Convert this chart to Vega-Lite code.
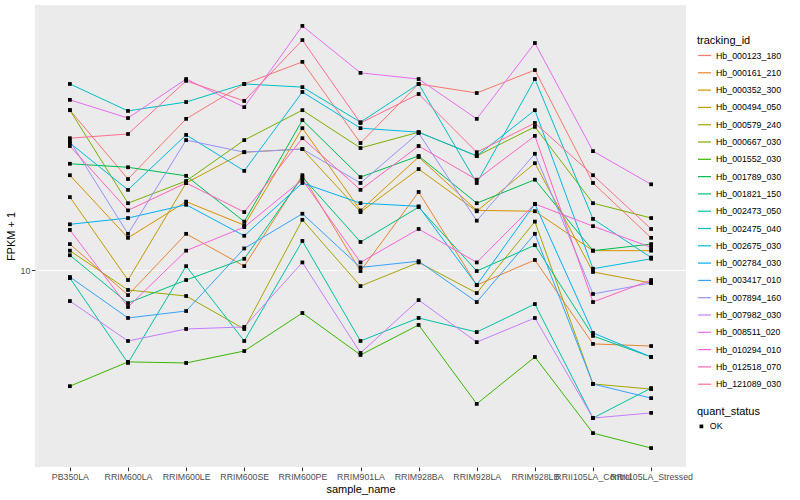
{
"$schema": "https://vega.github.io/schema/vega-lite/v6.json",
"width": 651, "height": 462,
"autosize": {"type": "none"},
"padding": {"left": 35, "top": 5, "right": 114, "bottom": 33},
"background": "white",
"config": {
  "view": {"fill": "#EBEBEB", "stroke": null},
  "font": "Liberation Sans",
  "axis": {"gridColor": "white", "gridWidth": 1.1, "domain": false, "tickColor": "#333333", "tickSize": 3.7, "labelColor": "#4D4D4D", "labelFontSize": 8.8, "labelPadding": 1.5, "titleFontSize": 11, "titleFontWeight": "normal", "titleColor": "black"},
  "legend": {"titleFontSize": 11, "titleFontWeight": "normal", "titleColor": "black", "labelFontSize": 8.8, "labelColor": "black", "padding": 0, "titlePadding": 2}
},
"data": {"values": [
{"tracking_id":"Hb_000123_180","sample_name":"PB350LA","fpkm":34.1,"quant_status":"OK"},
{"tracking_id":"Hb_000123_180","sample_name":"RRIM600LA","fpkm":20.1,"quant_status":"OK"},
{"tracking_id":"Hb_000123_180","sample_name":"RRIM600LE","fpkm":31.9,"quant_status":"OK"},
{"tracking_id":"Hb_000123_180","sample_name":"RRIM600SE","fpkm":41.7,"quant_status":"OK"},
{"tracking_id":"Hb_000123_180","sample_name":"RRIM600PE","fpkm":49.4,"quant_status":"OK"},
{"tracking_id":"Hb_000123_180","sample_name":"RRIM901LA","fpkm":26.5,"quant_status":"OK"},
{"tracking_id":"Hb_000123_180","sample_name":"RRIM928BA","fpkm":41.7,"quant_status":"OK"},
{"tracking_id":"Hb_000123_180","sample_name":"RRIM928LA","fpkm":38.9,"quant_status":"OK"},
{"tracking_id":"Hb_000123_180","sample_name":"RRIM928LB","fpkm":46.4,"quant_status":"OK"},
{"tracking_id":"Hb_000123_180","sample_name":"RRII105LA_Control","fpkm":19.5,"quant_status":"OK"},
{"tracking_id":"Hb_000123_180","sample_name":"RRII105LA_Stressed","fpkm":12.8,"quant_status":"OK"},
{"tracking_id":"Hb_000161_210","sample_name":"PB350LA","fpkm":12.2,"quant_status":"OK"},
{"tracking_id":"Hb_000161_210","sample_name":"RRIM600LA","fpkm":8.25,"quant_status":"OK"},
{"tracking_id":"Hb_000161_210","sample_name":"RRIM600LE","fpkm":13.2,"quant_status":"OK"},
{"tracking_id":"Hb_000161_210","sample_name":"RRIM600SE","fpkm":10.3,"quant_status":"OK"},
{"tracking_id":"Hb_000161_210","sample_name":"RRIM600PE","fpkm":20.7,"quant_status":"OK"},
{"tracking_id":"Hb_000161_210","sample_name":"RRIM901LA","fpkm":9.92,"quant_status":"OK"},
{"tracking_id":"Hb_000161_210","sample_name":"RRIM928BA","fpkm":18.2,"quant_status":"OK"},
{"tracking_id":"Hb_000161_210","sample_name":"RRIM928LA","fpkm":8.91,"quant_status":"OK"},
{"tracking_id":"Hb_000161_210","sample_name":"RRIM928LB","fpkm":10.8,"quant_status":"OK"},
{"tracking_id":"Hb_000161_210","sample_name":"RRII105LA_Control","fpkm":5.67,"quant_status":"OK"},
{"tracking_id":"Hb_000161_210","sample_name":"RRII105LA_Stressed","fpkm":5.58,"quant_status":"OK"},
{"tracking_id":"Hb_000352_300","sample_name":"PB350LA","fpkm":20.7,"quant_status":"OK"},
{"tracking_id":"Hb_000352_300","sample_name":"RRIM600LA","fpkm":12.8,"quant_status":"OK"},
{"tracking_id":"Hb_000352_300","sample_name":"RRIM600LE","fpkm":16.9,"quant_status":"OK"},
{"tracking_id":"Hb_000352_300","sample_name":"RRIM600SE","fpkm":14.1,"quant_status":"OK"},
{"tracking_id":"Hb_000352_300","sample_name":"RRIM600PE","fpkm":29.7,"quant_status":"OK"},
{"tracking_id":"Hb_000352_300","sample_name":"RRIM901LA","fpkm":15.8,"quant_status":"OK"},
{"tracking_id":"Hb_000352_300","sample_name":"RRIM928BA","fpkm":23.8,"quant_status":"OK"},
{"tracking_id":"Hb_000352_300","sample_name":"RRIM928LA","fpkm":15.8,"quant_status":"OK"},
{"tracking_id":"Hb_000352_300","sample_name":"RRIM928LB","fpkm":15.7,"quant_status":"OK"},
{"tracking_id":"Hb_000352_300","sample_name":"RRII105LA_Control","fpkm":11.6,"quant_status":"OK"},
{"tracking_id":"Hb_000352_300","sample_name":"RRII105LA_Stressed","fpkm":11.6,"quant_status":"OK"},
{"tracking_id":"Hb_000494_050","sample_name":"PB350LA","fpkm":17.5,"quant_status":"OK"},
{"tracking_id":"Hb_000494_050","sample_name":"RRIM600LA","fpkm":9.26,"quant_status":"OK"},
{"tracking_id":"Hb_000494_050","sample_name":"RRIM600LE","fpkm":19.5,"quant_status":"OK"},
{"tracking_id":"Hb_000494_050","sample_name":"RRIM600SE","fpkm":24.7,"quant_status":"OK"},
{"tracking_id":"Hb_000494_050","sample_name":"RRIM600PE","fpkm":25.3,"quant_status":"OK"},
{"tracking_id":"Hb_000494_050","sample_name":"RRIM901LA","fpkm":15.6,"quant_status":"OK"},
{"tracking_id":"Hb_000494_050","sample_name":"RRIM928BA","fpkm":21.7,"quant_status":"OK"},
{"tracking_id":"Hb_000494_050","sample_name":"RRIM928LA","fpkm":15.7,"quant_status":"OK"},
{"tracking_id":"Hb_000494_050","sample_name":"RRIM928LB","fpkm":22.7,"quant_status":"OK"},
{"tracking_id":"Hb_000494_050","sample_name":"RRII105LA_Control","fpkm":9.85,"quant_status":"OK"},
{"tracking_id":"Hb_000494_050","sample_name":"RRII105LA_Stressed","fpkm":9.05,"quant_status":"OK"},
{"tracking_id":"Hb_000579_240","sample_name":"PB350LA","fpkm":11.6,"quant_status":"OK"},
{"tracking_id":"Hb_000579_240","sample_name":"RRIM600LA","fpkm":8.58,"quant_status":"OK"},
{"tracking_id":"Hb_000579_240","sample_name":"RRIM600LE","fpkm":8.19,"quant_status":"OK"},
{"tracking_id":"Hb_000579_240","sample_name":"RRIM600SE","fpkm":6.36,"quant_status":"OK"},
{"tracking_id":"Hb_000579_240","sample_name":"RRIM600PE","fpkm":14.7,"quant_status":"OK"},
{"tracking_id":"Hb_000579_240","sample_name":"RRIM901LA","fpkm":8.84,"quant_status":"OK"},
{"tracking_id":"Hb_000579_240","sample_name":"RRIM928BA","fpkm":10.6,"quant_status":"OK"},
{"tracking_id":"Hb_000579_240","sample_name":"RRIM928LA","fpkm":8.38,"quant_status":"OK"},
{"tracking_id":"Hb_000579_240","sample_name":"RRIM928LB","fpkm":14.5,"quant_status":"OK"},
{"tracking_id":"Hb_000579_240","sample_name":"RRII105LA_Control","fpkm":4.17,"quant_status":"OK"},
{"tracking_id":"Hb_000579_240","sample_name":"RRII105LA_Stressed","fpkm":4.01,"quant_status":"OK"},
{"tracking_id":"Hb_000667_030","sample_name":"PB350LA","fpkm":34.1,"quant_status":"OK"},
{"tracking_id":"Hb_000667_030","sample_name":"RRIM600LA","fpkm":16.7,"quant_status":"OK"},
{"tracking_id":"Hb_000667_030","sample_name":"RRIM600LE","fpkm":19.8,"quant_status":"OK"},
{"tracking_id":"Hb_000667_030","sample_name":"RRIM600SE","fpkm":27.1,"quant_status":"OK"},
{"tracking_id":"Hb_000667_030","sample_name":"RRIM600PE","fpkm":34.1,"quant_status":"OK"},
{"tracking_id":"Hb_000667_030","sample_name":"RRIM901LA","fpkm":25.5,"quant_status":"OK"},
{"tracking_id":"Hb_000667_030","sample_name":"RRIM928BA","fpkm":28.8,"quant_status":"OK"},
{"tracking_id":"Hb_000667_030","sample_name":"RRIM928LA","fpkm":24.0,"quant_status":"OK"},
{"tracking_id":"Hb_000667_030","sample_name":"RRIM928LB","fpkm":30.0,"quant_status":"OK"},
{"tracking_id":"Hb_000667_030","sample_name":"RRII105LA_Control","fpkm":16.7,"quant_status":"OK"},
{"tracking_id":"Hb_000667_030","sample_name":"RRII105LA_Stressed","fpkm":14.9,"quant_status":"OK"},
{"tracking_id":"Hb_001552_030","sample_name":"PB350LA","fpkm":4.10,"quant_status":"OK"},
{"tracking_id":"Hb_001552_030","sample_name":"RRIM600LA","fpkm":4.94,"quant_status":"OK"},
{"tracking_id":"Hb_001552_030","sample_name":"RRIM600LE","fpkm":4.90,"quant_status":"OK"},
{"tracking_id":"Hb_001552_030","sample_name":"RRIM600SE","fpkm":5.37,"quant_status":"OK"},
{"tracking_id":"Hb_001552_030","sample_name":"RRIM600PE","fpkm":7.19,"quant_status":"OK"},
{"tracking_id":"Hb_001552_030","sample_name":"RRIM901LA","fpkm":5.21,"quant_status":"OK"},
{"tracking_id":"Hb_001552_030","sample_name":"RRIM928BA","fpkm":6.56,"quant_status":"OK"},
{"tracking_id":"Hb_001552_030","sample_name":"RRIM928LA","fpkm":3.58,"quant_status":"OK"},
{"tracking_id":"Hb_001552_030","sample_name":"RRIM928LB","fpkm":5.13,"quant_status":"OK"},
{"tracking_id":"Hb_001552_030","sample_name":"RRII105LA_Control","fpkm":2.86,"quant_status":"OK"},
{"tracking_id":"Hb_001552_030","sample_name":"RRII105LA_Stressed","fpkm":2.55,"quant_status":"OK"},
{"tracking_id":"Hb_001789_030","sample_name":"PB350LA","fpkm":22.6,"quant_status":"OK"},
{"tracking_id":"Hb_001789_030","sample_name":"RRIM600LA","fpkm":22.0,"quant_status":"OK"},
{"tracking_id":"Hb_001789_030","sample_name":"RRIM600LE","fpkm":20.6,"quant_status":"OK"},
{"tracking_id":"Hb_001789_030","sample_name":"RRIM600SE","fpkm":14.5,"quant_status":"OK"},
{"tracking_id":"Hb_001789_030","sample_name":"RRIM600PE","fpkm":31.6,"quant_status":"OK"},
{"tracking_id":"Hb_001789_030","sample_name":"RRIM901LA","fpkm":20.4,"quant_status":"OK"},
{"tracking_id":"Hb_001789_030","sample_name":"RRIM928BA","fpkm":24.0,"quant_status":"OK"},
{"tracking_id":"Hb_001789_030","sample_name":"RRIM928LA","fpkm":16.7,"quant_status":"OK"},
{"tracking_id":"Hb_001789_030","sample_name":"RRIM928LB","fpkm":20.0,"quant_status":"OK"},
{"tracking_id":"Hb_001789_030","sample_name":"RRII105LA_Control","fpkm":11.6,"quant_status":"OK"},
{"tracking_id":"Hb_001789_030","sample_name":"RRII105LA_Stressed","fpkm":12.2,"quant_status":"OK"},
{"tracking_id":"Hb_001821_150","sample_name":"PB350LA","fpkm":11.2,"quant_status":"OK"},
{"tracking_id":"Hb_001821_150","sample_name":"RRIM600LA","fpkm":7.76,"quant_status":"OK"},
{"tracking_id":"Hb_001821_150","sample_name":"RRIM600LE","fpkm":9.26,"quant_status":"OK"},
{"tracking_id":"Hb_001821_150","sample_name":"RRIM600SE","fpkm":10.9,"quant_status":"OK"},
{"tracking_id":"Hb_001821_150","sample_name":"RRIM600PE","fpkm":20.4,"quant_status":"OK"},
{"tracking_id":"Hb_001821_150","sample_name":"RRIM901LA","fpkm":12.4,"quant_status":"OK"},
{"tracking_id":"Hb_001821_150","sample_name":"RRIM928BA","fpkm":16.2,"quant_status":"OK"},
{"tracking_id":"Hb_001821_150","sample_name":"RRIM928LA","fpkm":9.92,"quant_status":"OK"},
{"tracking_id":"Hb_001821_150","sample_name":"RRIM928LB","fpkm":12.1,"quant_status":"OK"},
{"tracking_id":"Hb_001821_150","sample_name":"RRII105LA_Control","fpkm":6.03,"quant_status":"OK"},
{"tracking_id":"Hb_001821_150","sample_name":"RRII105LA_Stressed","fpkm":5.13,"quant_status":"OK"},
{"tracking_id":"Hb_002473_050","sample_name":"PB350LA","fpkm":9.40,"quant_status":"OK"},
{"tracking_id":"Hb_002473_050","sample_name":"RRIM600LA","fpkm":4.90,"quant_status":"OK"},
{"tracking_id":"Hb_002473_050","sample_name":"RRIM600LE","fpkm":10.3,"quant_status":"OK"},
{"tracking_id":"Hb_002473_050","sample_name":"RRIM600SE","fpkm":5.80,"quant_status":"OK"},
{"tracking_id":"Hb_002473_050","sample_name":"RRIM600PE","fpkm":12.5,"quant_status":"OK"},
{"tracking_id":"Hb_002473_050","sample_name":"RRIM901LA","fpkm":5.80,"quant_status":"OK"},
{"tracking_id":"Hb_002473_050","sample_name":"RRIM928BA","fpkm":6.92,"quant_status":"OK"},
{"tracking_id":"Hb_002473_050","sample_name":"RRIM928LA","fpkm":6.21,"quant_status":"OK"},
{"tracking_id":"Hb_002473_050","sample_name":"RRIM928LB","fpkm":7.70,"quant_status":"OK"},
{"tracking_id":"Hb_002473_050","sample_name":"RRII105LA_Control","fpkm":3.21,"quant_status":"OK"},
{"tracking_id":"Hb_002473_050","sample_name":"RRII105LA_Stressed","fpkm":4.04,"quant_status":"OK"},
{"tracking_id":"Hb_002475_040","sample_name":"PB350LA","fpkm":41.7,"quant_status":"OK"},
{"tracking_id":"Hb_002475_040","sample_name":"RRIM600LA","fpkm":33.9,"quant_status":"OK"},
{"tracking_id":"Hb_002475_040","sample_name":"RRIM600LE","fpkm":36.3,"quant_status":"OK"},
{"tracking_id":"Hb_002475_040","sample_name":"RRIM600SE","fpkm":41.7,"quant_status":"OK"},
{"tracking_id":"Hb_002475_040","sample_name":"RRIM600PE","fpkm":40.7,"quant_status":"OK"},
{"tracking_id":"Hb_002475_040","sample_name":"RRIM901LA","fpkm":31.1,"quant_status":"OK"},
{"tracking_id":"Hb_002475_040","sample_name":"RRIM928BA","fpkm":41.7,"quant_status":"OK"},
{"tracking_id":"Hb_002475_040","sample_name":"RRIM928LA","fpkm":19.5,"quant_status":"OK"},
{"tracking_id":"Hb_002475_040","sample_name":"RRIM928LB","fpkm":43.3,"quant_status":"OK"},
{"tracking_id":"Hb_002475_040","sample_name":"RRII105LA_Control","fpkm":14.8,"quant_status":"OK"},
{"tracking_id":"Hb_002475_040","sample_name":"RRII105LA_Stressed","fpkm":11.0,"quant_status":"OK"},
{"tracking_id":"Hb_002675_030","sample_name":"PB350LA","fpkm":26.5,"quant_status":"OK"},
{"tracking_id":"Hb_002675_030","sample_name":"RRIM600LA","fpkm":18.5,"quant_status":"OK"},
{"tracking_id":"Hb_002675_030","sample_name":"RRIM600LE","fpkm":28.2,"quant_status":"OK"},
{"tracking_id":"Hb_002675_030","sample_name":"RRIM600SE","fpkm":21.4,"quant_status":"OK"},
{"tracking_id":"Hb_002675_030","sample_name":"RRIM600PE","fpkm":39.2,"quant_status":"OK"},
{"tracking_id":"Hb_002675_030","sample_name":"RRIM901LA","fpkm":29.7,"quant_status":"OK"},
{"tracking_id":"Hb_002675_030","sample_name":"RRIM928BA","fpkm":28.8,"quant_status":"OK"},
{"tracking_id":"Hb_002675_030","sample_name":"RRIM928LA","fpkm":24.0,"quant_status":"OK"},
{"tracking_id":"Hb_002675_030","sample_name":"RRIM928LB","fpkm":34.1,"quant_status":"OK"},
{"tracking_id":"Hb_002675_030","sample_name":"RRII105LA_Control","fpkm":10.1,"quant_status":"OK"},
{"tracking_id":"Hb_002675_030","sample_name":"RRII105LA_Stressed","fpkm":10.9,"quant_status":"OK"},
{"tracking_id":"Hb_002784_030","sample_name":"PB350LA","fpkm":14.2,"quant_status":"OK"},
{"tracking_id":"Hb_002784_030","sample_name":"RRIM600LA","fpkm":14.9,"quant_status":"OK"},
{"tracking_id":"Hb_002784_030","sample_name":"RRIM600LE","fpkm":16.5,"quant_status":"OK"},
{"tracking_id":"Hb_002784_030","sample_name":"RRIM600SE","fpkm":13.0,"quant_status":"OK"},
{"tracking_id":"Hb_002784_030","sample_name":"RRIM600PE","fpkm":19.5,"quant_status":"OK"},
{"tracking_id":"Hb_002784_030","sample_name":"RRIM901LA","fpkm":16.7,"quant_status":"OK"},
{"tracking_id":"Hb_002784_030","sample_name":"RRIM928BA","fpkm":16.3,"quant_status":"OK"},
{"tracking_id":"Hb_002784_030","sample_name":"RRIM928LA","fpkm":8.91,"quant_status":"OK"},
{"tracking_id":"Hb_002784_030","sample_name":"RRIM928LB","fpkm":16.6,"quant_status":"OK"},
{"tracking_id":"Hb_002784_030","sample_name":"RRII105LA_Control","fpkm":6.17,"quant_status":"OK"},
{"tracking_id":"Hb_002784_030","sample_name":"RRII105LA_Stressed","fpkm":5.13,"quant_status":"OK"},
{"tracking_id":"Hb_003417_010","sample_name":"PB350LA","fpkm":9.48,"quant_status":"OK"},
{"tracking_id":"Hb_003417_010","sample_name":"RRIM600LA","fpkm":6.92,"quant_status":"OK"},
{"tracking_id":"Hb_003417_010","sample_name":"RRIM600LE","fpkm":7.30,"quant_status":"OK"},
{"tracking_id":"Hb_003417_010","sample_name":"RRIM600SE","fpkm":11.8,"quant_status":"OK"},
{"tracking_id":"Hb_003417_010","sample_name":"RRIM600PE","fpkm":15.4,"quant_status":"OK"},
{"tracking_id":"Hb_003417_010","sample_name":"RRIM901LA","fpkm":10.2,"quant_status":"OK"},
{"tracking_id":"Hb_003417_010","sample_name":"RRIM928BA","fpkm":10.7,"quant_status":"OK"},
{"tracking_id":"Hb_003417_010","sample_name":"RRIM928LA","fpkm":7.82,"quant_status":"OK"},
{"tracking_id":"Hb_003417_010","sample_name":"RRIM928LB","fpkm":13.2,"quant_status":"OK"},
{"tracking_id":"Hb_003417_010","sample_name":"RRII105LA_Control","fpkm":4.17,"quant_status":"OK"},
{"tracking_id":"Hb_003417_010","sample_name":"RRII105LA_Stressed","fpkm":3.74,"quant_status":"OK"},
{"tracking_id":"Hb_007894_160","sample_name":"PB350LA","fpkm":26.9,"quant_status":"OK"},
{"tracking_id":"Hb_007894_160","sample_name":"RRIM600LA","fpkm":13.2,"quant_status":"OK"},
{"tracking_id":"Hb_007894_160","sample_name":"RRIM600LE","fpkm":27.1,"quant_status":"OK"},
{"tracking_id":"Hb_007894_160","sample_name":"RRIM600SE","fpkm":24.7,"quant_status":"OK"},
{"tracking_id":"Hb_007894_160","sample_name":"RRIM600PE","fpkm":25.3,"quant_status":"OK"},
{"tracking_id":"Hb_007894_160","sample_name":"RRIM901LA","fpkm":19.5,"quant_status":"OK"},
{"tracking_id":"Hb_007894_160","sample_name":"RRIM928BA","fpkm":28.6,"quant_status":"OK"},
{"tracking_id":"Hb_007894_160","sample_name":"RRIM928LA","fpkm":14.6,"quant_status":"OK"},
{"tracking_id":"Hb_007894_160","sample_name":"RRIM928LB","fpkm":24.4,"quant_status":"OK"},
{"tracking_id":"Hb_007894_160","sample_name":"RRII105LA_Control","fpkm":8.32,"quant_status":"OK"},
{"tracking_id":"Hb_007894_160","sample_name":"RRII105LA_Stressed","fpkm":9.05,"quant_status":"OK"},
{"tracking_id":"Hb_007982_030","sample_name":"PB350LA","fpkm":7.88,"quant_status":"OK"},
{"tracking_id":"Hb_007982_030","sample_name":"RRIM600LA","fpkm":5.80,"quant_status":"OK"},
{"tracking_id":"Hb_007982_030","sample_name":"RRIM600LE","fpkm":6.36,"quant_status":"OK"},
{"tracking_id":"Hb_007982_030","sample_name":"RRIM600SE","fpkm":6.46,"quant_status":"OK"},
{"tracking_id":"Hb_007982_030","sample_name":"RRIM600PE","fpkm":10.6,"quant_status":"OK"},
{"tracking_id":"Hb_007982_030","sample_name":"RRIM901LA","fpkm":5.29,"quant_status":"OK"},
{"tracking_id":"Hb_007982_030","sample_name":"RRIM928BA","fpkm":7.94,"quant_status":"OK"},
{"tracking_id":"Hb_007982_030","sample_name":"RRIM928LA","fpkm":5.75,"quant_status":"OK"},
{"tracking_id":"Hb_007982_030","sample_name":"RRIM928LB","fpkm":6.92,"quant_status":"OK"},
{"tracking_id":"Hb_007982_030","sample_name":"RRII105LA_Control","fpkm":3.21,"quant_status":"OK"},
{"tracking_id":"Hb_007982_030","sample_name":"RRII105LA_Stressed","fpkm":3.34,"quant_status":"OK"},
{"tracking_id":"Hb_008511_020","sample_name":"PB350LA","fpkm":36.9,"quant_status":"OK"},
{"tracking_id":"Hb_008511_020","sample_name":"RRIM600LA","fpkm":32.1,"quant_status":"OK"},
{"tracking_id":"Hb_008511_020","sample_name":"RRIM600LE","fpkm":43.3,"quant_status":"OK"},
{"tracking_id":"Hb_008511_020","sample_name":"RRIM600SE","fpkm":34.9,"quant_status":"OK"},
{"tracking_id":"Hb_008511_020","sample_name":"RRIM600PE","fpkm":65.1,"quant_status":"OK"},
{"tracking_id":"Hb_008511_020","sample_name":"RRIM901LA","fpkm":45.4,"quant_status":"OK"},
{"tracking_id":"Hb_008511_020","sample_name":"RRIM928BA","fpkm":43.3,"quant_status":"OK"},
{"tracking_id":"Hb_008511_020","sample_name":"RRIM928LA","fpkm":31.9,"quant_status":"OK"},
{"tracking_id":"Hb_008511_020","sample_name":"RRIM928LB","fpkm":57.1,"quant_status":"OK"},
{"tracking_id":"Hb_008511_020","sample_name":"RRII105LA_Control","fpkm":24.9,"quant_status":"OK"},
{"tracking_id":"Hb_008511_020","sample_name":"RRII105LA_Stressed","fpkm":19.3,"quant_status":"OK"},
{"tracking_id":"Hb_010294_010","sample_name":"PB350LA","fpkm":13.6,"quant_status":"OK"},
{"tracking_id":"Hb_010294_010","sample_name":"RRIM600LA","fpkm":7.53,"quant_status":"OK"},
{"tracking_id":"Hb_010294_010","sample_name":"RRIM600LE","fpkm":11.6,"quant_status":"OK"},
{"tracking_id":"Hb_010294_010","sample_name":"RRIM600SE","fpkm":13.9,"quant_status":"OK"},
{"tracking_id":"Hb_010294_010","sample_name":"RRIM600PE","fpkm":20.0,"quant_status":"OK"},
{"tracking_id":"Hb_010294_010","sample_name":"RRIM901LA","fpkm":10.6,"quant_status":"OK"},
{"tracking_id":"Hb_010294_010","sample_name":"RRIM928BA","fpkm":13.7,"quant_status":"OK"},
{"tracking_id":"Hb_010294_010","sample_name":"RRIM928LA","fpkm":10.6,"quant_status":"OK"},
{"tracking_id":"Hb_010294_010","sample_name":"RRIM928LB","fpkm":16.6,"quant_status":"OK"},
{"tracking_id":"Hb_010294_010","sample_name":"RRII105LA_Control","fpkm":14.0,"quant_status":"OK"},
{"tracking_id":"Hb_010294_010","sample_name":"RRII105LA_Stressed","fpkm":11.9,"quant_status":"OK"},
{"tracking_id":"Hb_012518_070","sample_name":"PB350LA","fpkm":25.9,"quant_status":"OK"},
{"tracking_id":"Hb_012518_070","sample_name":"RRIM600LA","fpkm":15.8,"quant_status":"OK"},
{"tracking_id":"Hb_012518_070","sample_name":"RRIM600LE","fpkm":19.5,"quant_status":"OK"},
{"tracking_id":"Hb_012518_070","sample_name":"RRIM600SE","fpkm":15.6,"quant_status":"OK"},
{"tracking_id":"Hb_012518_070","sample_name":"RRIM600PE","fpkm":27.5,"quant_status":"OK"},
{"tracking_id":"Hb_012518_070","sample_name":"RRIM901LA","fpkm":18.5,"quant_status":"OK"},
{"tracking_id":"Hb_012518_070","sample_name":"RRIM928BA","fpkm":25.9,"quant_status":"OK"},
{"tracking_id":"Hb_012518_070","sample_name":"RRIM928LA","fpkm":20.0,"quant_status":"OK"},
{"tracking_id":"Hb_012518_070","sample_name":"RRIM928LB","fpkm":28.0,"quant_status":"OK"},
{"tracking_id":"Hb_012518_070","sample_name":"RRII105LA_Control","fpkm":7.82,"quant_status":"OK"},
{"tracking_id":"Hb_012518_070","sample_name":"RRII105LA_Stressed","fpkm":9.26,"quant_status":"OK"},
{"tracking_id":"Hb_121089_030","sample_name":"PB350LA","fpkm":27.5,"quant_status":"OK"},
{"tracking_id":"Hb_121089_030","sample_name":"RRIM600LA","fpkm":28.4,"quant_status":"OK"},
{"tracking_id":"Hb_121089_030","sample_name":"RRIM600LE","fpkm":42.7,"quant_status":"OK"},
{"tracking_id":"Hb_121089_030","sample_name":"RRIM600SE","fpkm":36.6,"quant_status":"OK"},
{"tracking_id":"Hb_121089_030","sample_name":"RRIM600PE","fpkm":58.4,"quant_status":"OK"},
{"tracking_id":"Hb_121089_030","sample_name":"RRIM901LA","fpkm":30.9,"quant_status":"OK"},
{"tracking_id":"Hb_121089_030","sample_name":"RRIM928BA","fpkm":38.6,"quant_status":"OK"},
{"tracking_id":"Hb_121089_030","sample_name":"RRIM928LA","fpkm":24.7,"quant_status":"OK"},
{"tracking_id":"Hb_121089_030","sample_name":"RRIM928LB","fpkm":30.9,"quant_status":"OK"},
{"tracking_id":"Hb_121089_030","sample_name":"RRII105LA_Control","fpkm":20.7,"quant_status":"OK"},
{"tracking_id":"Hb_121089_030","sample_name":"RRII105LA_Stressed","fpkm":13.7,"quant_status":"OK"}
]},
"encoding": {
  "x": {"field": "sample_name", "type": "nominal",
        "sort": ["PB350LA","RRIM600LA","RRIM600LE","RRIM600SE","RRIM600PE","RRIM901LA","RRIM928BA","RRIM928LA","RRIM928LB","RRII105LA_Control","RRII105LA_Stressed"],
        "scale": {"type": "point", "padding": 0.6},
        "axis": {"title": "sample_name", "labelAngle": 0, "labelOverlap": false, "labelLimit": 0, "titlePadding": 2}},
  "y": {"field": "fpkm", "type": "quantitative",
        "scale": {"type": "log", "domain": [2.205, 76.43], "nice": false},
        "axis": {"title": "FPKM + 1", "values": [10], "format": "d", "titlePadding": 4}}
},
"layer": [
  {"mark": {"type": "line", "strokeWidth": 1},
   "encoding": {
     "color": {"field": "tracking_id", "type": "nominal",
       "scale": {"domain": ["Hb_000123_180","Hb_000161_210","Hb_000352_300","Hb_000494_050","Hb_000579_240","Hb_000667_030","Hb_001552_030","Hb_001789_030","Hb_001821_150","Hb_002473_050","Hb_002475_040","Hb_002675_030","Hb_002784_030","Hb_003417_010","Hb_007894_160","Hb_007982_030","Hb_008511_020","Hb_010294_010","Hb_012518_070","Hb_121089_030"],
                 "range": ["#F8766D","#EA8331","#D89000","#C09B00","#A3A500","#7CAE00","#39B600","#00BB4E","#00BF7D","#00C1A3","#00BFC4","#00BAE0","#00B0F6","#35A2FF","#9590FF","#C77CFF","#E76BF3","#FA62DB","#FF62BC","#FF6C91"]},
       "legend": {"title": "tracking_id", "orient": "none", "legendX": 662, "legendY": 30, "symbolType": "stroke", "symbolSize": 170, "symbolStrokeWidth": 1.2, "rowPadding": 4.3}}
   }},
  {"mark": {"type": "point", "filled": true, "color": "black", "opacity": 1},
   "encoding": {
     "shape": {"field": "quant_status", "type": "nominal",
       "scale": {"range": ["square"]},
       "legend": {"title": "quant_status", "orient": "none", "legendX": 662, "legendY": 401, "symbolFillColor": "black", "symbolStrokeColor": "black", "symbolSize": 14, "symbolOpacity": 1, "titlePadding": 5}},
     "size": {"value": 14}
   }}
]
}
